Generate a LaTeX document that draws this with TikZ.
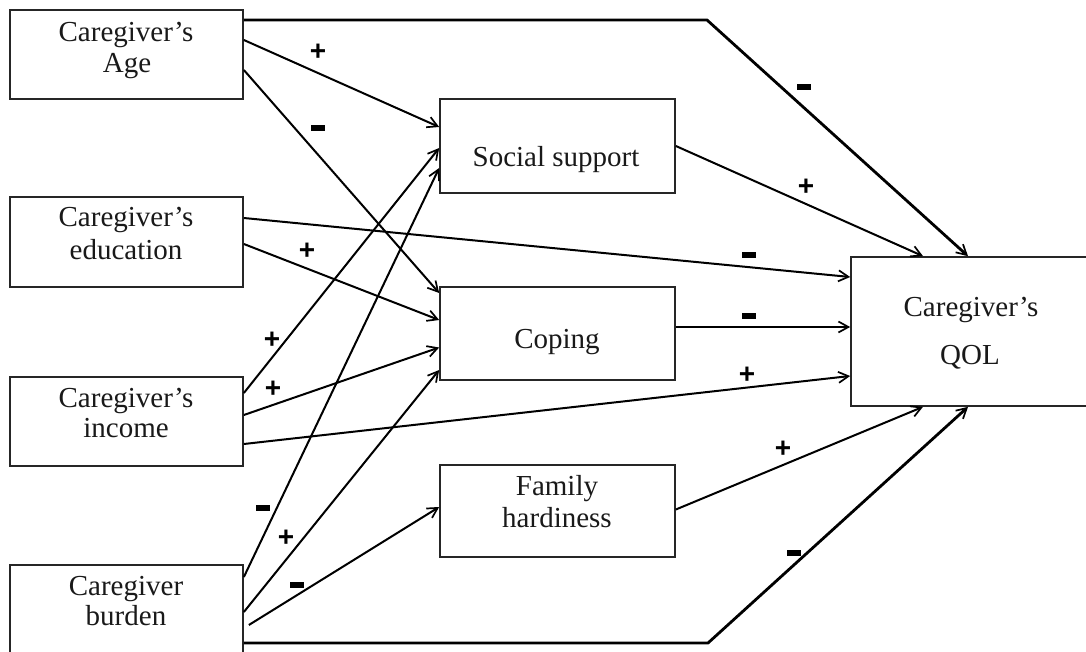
\documentclass[tikz,border=0pt]{standalone}
\usepackage{fontspec}
\setmainfont{Liberation Serif}
\newfontfamily\signfont{Liberation Sans}
\usetikzlibrary{arrows.meta}
\tikzset{
  box/.style={draw=black!85, line width=1.7pt, minimum width=233pt, inner sep=0pt},
  mbox/.style={box, minimum width=235pt},
  txt/.style={anchor=base, inner sep=0pt, text=black!90, font=\fontsize{29}{31}\selectfont},
  conn/.style={line width=2pt, -{Straight Barb[length=10pt,width=11pt,line width=1.7pt]}},
  longconn/.style={conn, line width=2.8pt},
  sgn/.style={inner sep=0pt, font=\signfont\bfseries\fontsize{28}{28}\selectfont},
  mns/.style={fill=black, minimum width=14pt, minimum height=6pt, inner sep=0pt}
}
\begin{document}
\begin{tikzpicture}[x=1pt,y=-1pt]
\useasboundingbox (0,0) rectangle (1086,652);
\clip (0,0) rectangle (1086,652);
% left boxes
\node[box, minimum height=89pt] (age) at (126.5,54.5) {};
\node[box, minimum height=90pt] (edu) at (126.5,242) {};
\node[box, minimum height=89pt] (inc) at (126.5,421.5) {};
\node[box, minimum height=100pt] (bur) at (126.5,615) {};
% middle boxes
\node[mbox, minimum height=94pt] (ss) at (557.5,146) {};
\node[mbox, minimum height=93pt] (cop) at (557.5,333.5) {};
\node[mbox, minimum height=92pt] (fh) at (557.5,511) {};
% outcome
\node[box, minimum width=240pt, minimum height=149pt] (qol) at (971,331.5) {};
% texts
\node[txt] (t1) at (126,42) {Caregiver’s};
\node[txt] (t2) at (127,73) {Age};
\node[txt] (t3) at (126,227) {Caregiver’s};
\node[txt] (t4) at (126,259) {education};
\node[txt] (t5) at (126,407) {Caregiver’s};
\node[txt] (t6) at (126,437) {income};
\node[txt] (t7) at (126,595) {Caregiver};
\node[txt] (t8) at (126,625) {burden};
\node[txt] (t9) at (556,167) {Social support};
\node[txt] (t10) at (557,348) {Coping};
\node[txt] (t11) at (557,495) {Family};
\node[txt] (t12) at (557,527) {hardiness};
\node[txt] (t13) at (971,316) {Caregiver’s};
\node[txt] (t14) at (970,364) {QOL};
% kink points
\coordinate (k1) at (707,20);
\coordinate (k2) at (708,643);
% connectors
\draw[longconn] ([yshift=34.5pt]age.east) -- (k1) -- ([xshift=-3pt]qol.north);
\draw[conn] ([yshift=14.5pt]age.east) -- ([yshift=19pt]ss.west);
\draw[conn] ([yshift=-15.5pt]age.east) -- ([yshift=40.5pt]cop.west);
\draw[conn] ([yshift=24pt]edu.east) -- ([yshift=54.5pt]qol.west);
\draw[conn] ([yshift=-2pt]edu.east) -- ([yshift=13.5pt]cop.west);
\draw[conn] ([yshift=28.5pt]inc.east) -- ([yshift=-2pt]ss.west);
\draw[conn] ([yshift=6.5pt]inc.east) -- ([yshift=-14pt]cop.west);
\draw[conn] ([yshift=-22.5pt]inc.east) -- ([yshift=-44.5pt]qol.west);
\draw[conn] ([yshift=38pt]bur.east) -- ([yshift=-22pt]ss.west);
\draw[conn] ([yshift=3pt]bur.east) -- ([yshift=-36.5pt]cop.west);
\draw[conn] ([xshift=5pt,yshift=-10pt]bur.east) -- ([yshift=4pt]fh.west);
\draw[longconn] ([yshift=-28pt]bur.east) -- (k2) -- ([xshift=-3pt]qol.south);
\draw[conn] (ss.east) -- ([xshift=-48pt]qol.north);
\draw[conn] ([yshift=6.5pt]cop.east) -- ([yshift=4.5pt]qol.west);
\draw[conn] ([yshift=1.5pt]fh.east) -- ([xshift=-48pt]qol.south);
% signs
\node[sgn] (s1) at (318,52) {+};
\node[mns] (s2) at (318,128) {};
\node[mns] (s3) at (804,87) {};
\node[mns] (s4) at (749,255) {};
\node[sgn] (s5) at (307,251) {+};
\node[sgn] (s6) at (272,340) {+};
\node[sgn] (s7) at (273,389) {+};
\node[sgn] (s8) at (747,375) {+};
\node[mns] (s9) at (263,508) {};
\node[sgn] (s10) at (286,538) {+};
\node[mns] (s11) at (297,585) {};
\node[mns] (s12) at (794,553) {};
\node[sgn] (s13) at (806,187) {+};
\node[mns] (s14) at (749,316) {};
\node[sgn] (s15) at (783,449) {+};
\end{tikzpicture}
\end{document}
